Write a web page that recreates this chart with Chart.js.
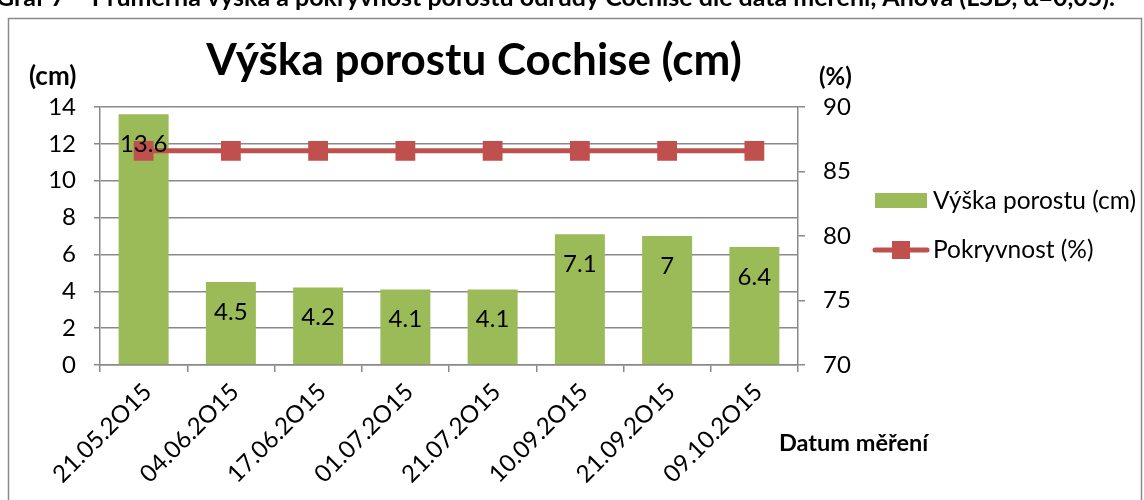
<!DOCTYPE html>
<html><head><meta charset="utf-8">
<script src="https://cdn.jsdelivr.net/npm/chart.js@4/dist/chart.umd.min.js"></script>
<style>html,body{margin:0;padding:0;background:#fff;overflow:hidden}#wrap{position:relative;width:1144px;height:500px}</style>
</head><body><div id="wrap"><canvas id="c" width="1144" height="500"></canvas></div>
<script>
const categories = ['21.05.2O15','04.06.2O15','17.06.2O15','01.07.2O15','21.07.2O15','10.09.2O15','21.09.2O15','09.10.2O15'];
const vyskaPorostu = [13.6, 4.5, 4.2, 4.1, 4.1, 7.1, 7.0, 6.4];
const pokryvnost = [86.6, 86.6, 86.6, 86.6, 86.6, 86.6, 86.6, 86.6];
const leftTicks = [0, 14, 2];
const rightTicks = [70, 90, 5];
const seriesNames = ['Výška porostu (cm)', 'Pokryvnost (%)'];
const chartTitle = 'Výška porostu Cochise (cm)';
const caption = 'Graf 7 – Průměrná výška a pokryvnost porostu odrůdy Cochise dle data měření, Anova (LSD, α=0,05).';
const leftTitle = '(cm)', rightTitle = '(%)', xTitle = 'Datum měření';

const GREEN = '#9BBB59', RED = '#C0504D', GRID = '#898989';
const FF = 'Lato';

const decor = {
  id: 'decor',
  beforeDraw(chart) {
    const ctx = chart.ctx;
    ctx.save();
    ctx.strokeStyle = '#8a8a8a'; ctx.lineWidth = 1.5;
    ctx.strokeRect(8.5, 18.5, 1133, 600);
    ctx.fillStyle = '#000';
    ctx.font = 'bold 25px ' + FF; ctx.textBaseline = 'alphabetic'; ctx.textAlign = 'left';
    ctx.fillText(caption, -4, 6);
    ctx.restore();
  },
  afterDraw(chart) {
    const ctx = chart.ctx;
    ctx.save();
    ctx.fillStyle = '#000';
    // title
    ctx.font = 'bold 44px ' + FF; ctx.textAlign = 'center'; ctx.textBaseline = 'alphabetic';
    ctx.fillText(chartTitle, 474, 75);
    // axis titles
    ctx.textBaseline = 'middle'; ctx.textAlign = 'left';
    ctx.font = 'bold 26px ' + FF;
    ctx.fillText(leftTitle, 29, 77);
    ctx.font = 'bold 24px ' + FF;
    ctx.fillText(rightTitle, 819, 77);
    ctx.font = 'bold 23.5px ' + FF;
    ctx.fillText(xTitle, 779, 443);
    // x tick labels (rotated), anchored at the category scale's tick pixels
    const xs = chart.scales.x;
    ctx.font = '24px ' + FF; ctx.textAlign = 'right'; ctx.textBaseline = 'middle';
    categories.forEach((lab, i) => {
      const px = xs.getPixelForTick(i);
      ctx.save();
      ctx.translate(px + 4, xs.top + 23);
      ctx.rotate(-Math.PI / 4);
      ctx.fillText(lab, 0, 0);
      ctx.restore();
    });
    // data labels
    ctx.font = '24px ' + FF; ctx.textAlign = 'center'; ctx.textBaseline = 'middle';
    const meta = chart.getDatasetMeta(1);
    meta.data.forEach((bar, i) => {
      ctx.fillText(String(vyskaPorostu[i]), bar.x, bar.y + 30);
    });
    // legend
    ctx.fillStyle = GREEN; ctx.fillRect(875, 193, 52, 15);
    ctx.strokeStyle = RED; ctx.lineWidth = 5; ctx.lineCap = 'round';
    ctx.beginPath(); ctx.moveTo(875, 250); ctx.lineTo(927, 250); ctx.stroke();
    ctx.fillStyle = RED; ctx.fillRect(892, 241, 18, 18);
    ctx.fillStyle = '#000'; ctx.font = '24.5px ' + FF; ctx.textAlign = 'left';
    ctx.fillText(seriesNames[0], 933, 201);
    ctx.fillText(seriesNames[1], 933, 250);
    ctx.restore();
  }
};

function build() {
  const tickFont = { family: FF, size: 24 };
  new Chart(document.getElementById('c'), {
    data: {
      labels: categories,
      datasets: [
        { type: 'line', label: seriesNames[1], data: pokryvnost, yAxisID: 'y1', borderColor: RED, backgroundColor: RED,
          borderWidth: 5, pointStyle: 'rect', pointRadius: 14, pointHoverRadius: 14, pointBorderWidth: 0, tension: 0, order: 0 },
        { type: 'bar', label: seriesNames[0], data: vyskaPorostu, yAxisID: 'y', backgroundColor: GREEN,
          barPercentage: 0.573, categoryPercentage: 1, order: 1 }
      ]
    },
    options: {
      responsive: false, animation: false,
      layout: { padding: { top: 107, left: 0, right: 0, bottom: 0 } },
      plugins: { legend: { display: false }, tooltip: { enabled: false }, title: { display: false } },
      scales: {
        x: {
          offset: true,
          grid: { offset: true, drawOnChartArea: false, tickLength: 7, color: GRID, lineWidth: 1.5 },
          border: { color: GRID, width: 1.5 },
          ticks: { display: false },
          afterFit: s => { s.height = 135; }
        },
        y: {
          position: 'left', min: leftTicks[0], max: leftTicks[1],
          ticks: { stepSize: leftTicks[2], font: tickFont, color: '#000', padding: 18 },
          grid: { color: GRID, lineWidth: 1.5, tickLength: 6 },
          border: { color: GRID, width: 1.5 },
          afterFit: s => { s.width = 100; }
        },
        y1: {
          position: 'right', min: rightTicks[0], max: rightTicks[1],
          ticks: { stepSize: rightTicks[2], font: tickFont, color: '#000', padding: 18 },
          grid: { drawOnChartArea: false, color: GRID, lineWidth: 1.5, tickLength: 7 },
          border: { color: GRID, width: 1.5 },
          afterFit: s => { s.width = 346; }
        }
      }
    },
    plugins: [decor]
  });
}
Promise.all([document.fonts.load('24px Lato'), document.fonts.load('bold 24px Lato')]).then(build, build);
</script></body></html>
